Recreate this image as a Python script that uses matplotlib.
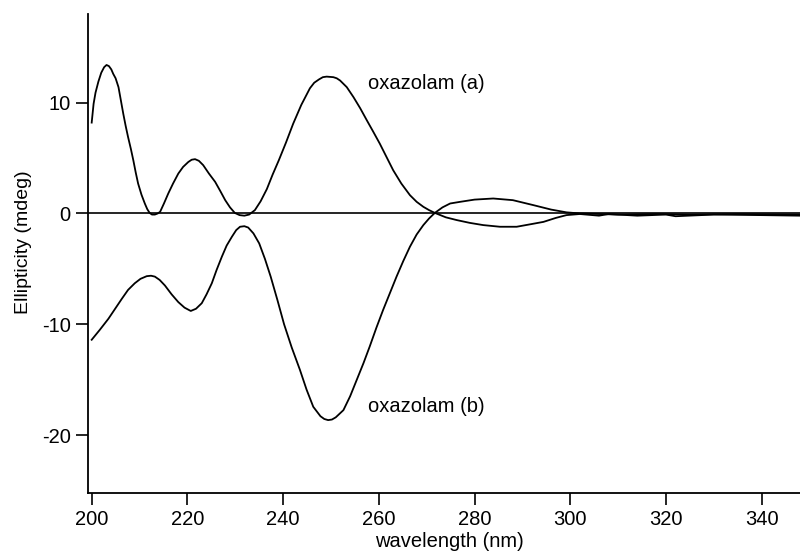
import numpy as np
import matplotlib
matplotlib.use("Agg")
from matplotlib import pyplot as plt

plt.rcParams['font.family'] = ['Liberation Sans', 'DejaVu Sans']
plt.rcParams['axes.unicode_minus'] = False

# oxazolam (a) CD spectrum
wl_a = [200, 200.4, 200.8, 201.4, 202.0, 202.6, 203.1, 203.6, 204.1, 204.5,
        205.0, 205.6, 206.1, 206.6, 207.1, 207.6, 208.2, 208.7, 209.2, 209.7,
        210.4, 211.1, 211.6, 212.1, 212.6, 213.2, 213.8, 214.3, 215.1, 216.0,
        217.0, 218.1, 219.1, 220.2, 220.9, 221.6, 222.4, 223.3, 224.5, 225.8,
        226.9, 227.9, 228.9, 229.9, 230.9, 231.9, 232.9, 234.1, 235.3, 236.6,
        237.8, 239.1, 240.6, 242.1, 243.8, 245.6, 246.5, 247.5, 248.3, 249.1,
        250.5, 251.2, 251.9, 253.3, 254.7, 256.1, 257.5, 258.8, 260.2, 261.6,
        263.0, 264.7, 266.5, 267.9, 269.3, 270.5, 271.7, 274.0, 276.3, 279.0,
        281.8, 285.3, 288.8, 292.0, 294.4, 297.0, 299.2, 302, 306, 308,
        314, 320, 322, 330, 340, 348]
cd_a = [8.2, 9.9, 10.9, 11.9, 12.7, 13.2, 13.4, 13.3, 13.0, 12.6,
        12.2, 11.4, 10.2, 9.0, 7.9, 6.9, 5.8, 4.8, 3.7, 2.7,
        1.7, 0.9, 0.4, 0.05, -0.1, -0.1, 0.0, 0.15, 0.9, 1.8,
        2.7, 3.6, 4.2, 4.65, 4.85, 4.9, 4.75, 4.36, 3.6, 2.85,
        2.0, 1.2, 0.55, 0.05, -0.15, -0.2, -0.1, 0.3, 1.1, 2.2,
        3.5, 4.8, 6.4, 8.1, 9.8, 11.3, 11.8, 12.1, 12.3, 12.35,
        12.3, 12.2, 12.0, 11.4, 10.5, 9.5, 8.4, 7.4, 6.3, 5.1,
        3.9, 2.7, 1.65, 1.05, 0.6, 0.3, 0.05, -0.35, -0.6, -0.85,
        -1.05, -1.2, -1.2, -0.95, -0.76, -0.4, -0.15, -0.05, -0.2, -0.05,
        -0.2, -0.1, -0.25, -0.1, -0.15, -0.2]

# oxazolam (b)
wl_b = [200, 201.7, 203.5, 204.9, 206.3, 207.6, 209.0, 210.2, 211.5, 212.4,
        213.2, 214.2, 215.3, 216.7, 218.1, 219.4, 220.7, 221.8, 223.0, 224.0,
        225.1, 226.1, 227.2, 228.2, 229.3, 230.2, 231.0, 231.9, 232.7, 233.8,
        235.0, 236.2, 237.4, 238.8, 240.2, 241.8, 243.5, 244.9, 246.3, 247.8,
        248.6, 249.4, 250.2, 251.0, 252.6, 254.0, 255.4, 256.8, 258.1, 259.5,
        260.9, 262.3, 263.7, 265.1, 266.5, 267.9, 269.3, 270.5, 271.7, 273.3,
        274.9, 277.0, 280, 283.9, 288, 292.3, 296, 299.2, 302, 310,
        318, 325, 335, 348]
cd_b = [-11.4, -10.5, -9.5, -8.6, -7.7, -6.9, -6.3, -5.9, -5.66, -5.62,
        -5.7, -6.0, -6.5, -7.3, -8.0, -8.5, -8.8, -8.6, -8.1, -7.3,
        -6.3, -5.1, -3.9, -2.9, -2.1, -1.5, -1.2, -1.15, -1.27, -1.8,
        -2.7, -4.1, -5.7, -7.8, -10.0, -12.1, -14.1, -15.9, -17.45, -18.3,
        -18.55, -18.65, -18.6, -18.4, -17.75, -16.5, -15.0, -13.5, -12.0, -10.3,
        -8.7, -7.2, -5.7, -4.3, -3.0, -1.9, -1.05, -0.45, 0.05, 0.55,
        0.9, 1.05, 1.25, 1.35, 1.2, 0.75, 0.35, 0.1, 0.0, -0.1,
        -0.05, -0.1, -0.05, -0.1]

xticks = [200, 220, 240, 260, 280, 300, 320, 340]
yticks = [-20, -10, 0, 10]

fig = plt.figure(figsize=(8, 5.54), dpi=100)
ax = fig.add_axes([0.11, 0.1107, 0.89, 0.864])

ax.plot(wl_a, cd_a, color='black', lw=1.3)
ax.plot(wl_b, cd_b, color='black', lw=1.3)
ax.axhline(0, color='black', lw=1.2)

ax.text(257.8, 11.76, 'oxazolam (a)', fontsize=14.5, va='center', ha='left')
ax.text(257.8, -17.45, 'oxazolam (b)', fontsize=14.5, va='center', ha='left')

ax.set_xlim(199.23, 348)
ax.set_ylim(-25.2, 18.0)
ax.set_xticks(xticks)
ax.set_yticks(yticks)
ax.tick_params(direction='out', length=8.5, width=1.2, labelsize=14.5, pad=4)
ax.spines['top'].set_visible(False)
ax.spines['right'].set_visible(False)
ax.spines['left'].set_linewidth(1.3)
ax.spines['bottom'].set_linewidth(1.3)

ax.set_xlabel('wavelength (nm)', fontsize=14.5, va='top')
ax.xaxis.set_label_coords(0.508, -0.083)
ax.set_ylabel('Ellipticity (mdeg)', fontsize=14, va='center')
ax.yaxis.set_label_coords(-0.0909, 0.524)

fig.savefig('out.png', dpi=100)
